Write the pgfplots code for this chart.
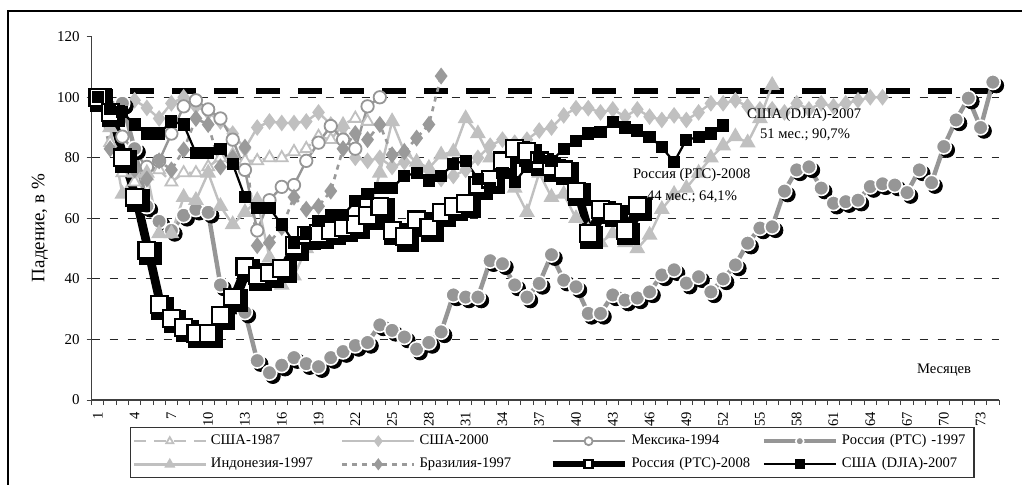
\documentclass[border=0pt]{standalone}
\usepackage{fontspec}
\setmainfont{Liberation Serif}
\usepackage{pgfplots}
\pgfplotsset{compat=1.18}
\usepackage{pgfplotstable}

\definecolor{lgray}{HTML}{C0C0C0}
\definecolor{mgray}{HTML}{969696}
\definecolor{bgray}{HTML}{9A9A9A}

% reference line at the top
\pgfplotstableread{
m v
1 102
74 102
}\refline

\pgfplotstableread{
m v
1 100
2 85
3 75
4 72
5 74
6 76
7 72
8 75
9 75
10 77
11 80
12 81
13 79
14 79
15 80
16 80
17 82
18 83
19 87
20 86
21 91
22 93
23 92
}\usaA

\pgfplotstableread{
m v
1 100
2 98
3 97
4 99
5 96.5
6 93
7 98
8 100
9 97
10 95
11 92
12 88
13 83
14 90
15 92
16 91.5
17 91.5
18 92
19 95
20 91
21 90
22 80
23 79
24 80
25 77
26 78.6
27 78
28 76
29 73
30 74
31 76
32 80
33 84
34 86
35 85
36 86
37 89
38 90
39 94
40 96.4
41 96.4
42 95
43 96
44 93.6
45 96
46 93.6
47 92.5
48 94
49 92.5
50 95
51 98
52 98
53 99
54 97
55 96
56 96
57 95
58 98
59 96
60 98
61 97
62 98
63 99
64 100
65 100
}\usaB

\pgfplotstableread{
m v
1 100
2 96
3 87
4 82
5 77
6 79
7 88
8 97
9 99
10 96
11 93
12 86
13 76
14 56
15 66
16 70.4
17 71
18 79
19 85
20 90.5
21 86
22 83
23 97
24 100
}\mex

\pgfplotstableread{
m v
1 100
2 97
3 98
4 83
5 64
6 59
7 56
8 61
9 63
10 62
11 38
12 32
13 29
14 13
15 9
16 11.5
17 14
18 12
19 11
20 14
21 16
22 18
23 19
24 24.8
25 23
26 20.8
27 16.8
28 19
29 22.5
30 34.7
31 34
32 34
33 46
34 45
35 38
36 34
37 38.5
38 48
39 39.6
40 37.4
41 28.6
42 28.6
43 34.7
44 33
45 33.7
46 35.7
47 41.3
48 43
49 38.6
50 40.7
51 35.7
52 40
53 44.6
54 51.8
55 56.8
56 57.2
57 69
58 76
59 77
60 70
61 65
62 65.5
63 66
64 70.5
65 71.4
66 71
67 68.5
68 76
69 71.8
70 83.7
71 92.5
72 99.7
73 90
74 105
}\rusA

\pgfplotstableread{
m v
1 100
2 90
3 68
4 75
5 75
6 55
7 55
8 67
9 66
10 75
11 64
12 58
13 62
14 66
15 47
16 38
17 41
18 50
19 52
20 54
21 54
22 55
23 60
24 75
25 92
26 82
27 78.6
28 76.6
29 81
30 82
31 93
32 88
33 80
34 79
35 70
36 62
37 75
38 67
39 68
40 60
41 56
42 52
43 55
44 52
45 50
46 54.5
47 63
48 68
49 70
50 75
51 80
52 84
53 87
54 85
55 93
56 104
}\ind

\pgfplotstableread{
m v
1 100
2 83
3 80
4 76
5 73
6 79
7 76
8 82.6
9 93
10 91
11 77
12 80
13 83.5
14 51
15 52
16 57
17 67
18 63
19 64
20 69
21 83
22 88
23 86
24 91
25 81
26 82
27 86.5
28 91
29 107
}\bra

\pgfplotstableread{
m v
1 100
2 95
3 80
4 67
5 49.5
6 31.5
7 27
8 24
9 22
10 22
11 28
12 34
13 44
14 41
15 42
16 43.5
17 51
18 54.5
19 55
20 56
21 57
22 58
23 61
24 64
25 56
26 54
27 59.5
28 57
29 62
30 64
31 65
32 71
33 73
34 79
35 83
36 82
37 79
38 77
39 76
40 69
41 55
42 63
43 62
44 56
45 64.1
}\rusB

\pgfplotstableread{
m v
1 100
2 96
3 95
4 91
5 88
6 88
7 92
8 91
9 81.5
10 81.6
11 83
12 78
13 67
14 63.5
15 63.4
16 58
17 52
18 55
19 59
20 61
21 61
22 65.7
23 68
24 70
25 70
26 74
27 75
28 72.5
29 74
30 78
31 79
32 73
33 70
34 75
35 72
36 77
37 80
38 79
39 83
40 85.6
41 88
42 88.5
43 91.7
44 90
45 89
46 87
47 83.5
48 78.6
49 86
50 86.8
51 88
52 90.7
}\djia

\begin{document}
\begin{tikzpicture}
\useasboundingbox (0,0) rectangle (511pt,-242pt);
\fill[white] (0,0) rectangle (511pt,-242pt);
\draw[line width=1pt] (4.2pt,-260pt) -- (4.2pt,-5.6pt) -- (530pt,-5.6pt);
\begin{axis}[
  at={(45.85pt,-200pt)}, anchor=south west,
  scale only axis, width=453.65pt, height=181.65pt,
  xmin=0.5, xmax=74.5, ymin=0, ymax=120,
  clip=false,
  axis x line*=bottom, axis y line*=left,
  axis line style={black!75, line width=0.6pt},
  tick align=outside,
  xtick={1,4,...,73},
  minor xtick={0.5,1.5,...,74.5},
  major x tick style={draw=none},
  minor x tick style={black!75, line width=0.5pt},
  minor tick length=2.5pt,
  major tick length=2.5pt,
  ytick={0,20,...,120},
  y tick style={black!75, line width=0.5pt},
  extra y ticks={20,40,60,80,100},
  extra y tick labels={},
  extra y tick style={grid=major, major tick length=0pt,
    major grid style={black!85, line width=0.5pt, dash pattern=on 4.3pt off 4.7pt}},
  /pgf/number format/assume math mode=true,
  xticklabel style={rotate=90, anchor=east, font=\fontsize{7.3}{8.5}\selectfont},
  yticklabel style={font=\fontsize{7.5}{9}\selectfont},
  legend columns=4,
  legend cell align=left,
  legend image code/.code={\draw[mark repeat=2,mark phase=2,#1] plot coordinates {(0pt,0pt) (18pt,0pt) (36pt,0pt)};},
  legend image post style={mark size=2pt},
  legend style={at={(0.0422,-0.0743)}, anchor=north west, draw=black!80,
    line width=0.6pt, font=\fontsize{7.3}{8.5}\selectfont,
    inner xsep=1pt, inner ysep=1.5pt, row sep=1pt, /tikz/column sep=0pt,
    /tikz/every even column/.append style={text width=63pt}},
]
\addplot[forget plot, black, line width=3pt, dash pattern=on 11.75pt off 9.25pt, dash phase=4.9pt] table {\refline};

\addplot[lgray, line width=1.2pt, dash pattern=on 6pt off 4pt, mark=triangle*, mark size=3.4pt,
  mark options={solid, fill=white, draw=lgray, line width=0.9pt}] table {\usaA};
\addlegendentry{США-1987}

\addplot[lgray, line width=1.2pt, mark=diamond*, mark size=3.2pt,
  mark options={fill=lgray, draw=lgray}] table {\usaB};
\addlegendentry{США-2000}

\addplot[mgray, line width=1.2pt, mark=*, mark size=3.1pt,
  mark options={fill=white, draw=mgray, line width=0.9pt}] table {\mex};
\addlegendentry{Мексика-1994}

\addplot[forget plot, black, only marks, mark=*, mark size=3.7pt, mark options={fill=black, draw=black},
  xshift=1.7pt, yshift=-1.7pt] table {\rusA};
\addplot[mgray, line width=2.2pt, mark=*, mark size=3.7pt,
  mark options={fill=mgray, draw=white, line width=0.8pt}] table {\rusA};
\addlegendentry{Россия (РТС) -1997}

\addplot[lgray, line width=1.2pt, mark=triangle*, mark size=3.4pt,
  mark options={fill=lgray, draw=lgray}] table {\ind};
\addlegendentry{Индонезия-1997}

\addplot[bgray, line width=1.3pt, dash pattern=on 2.5pt off 2.5pt, mark=diamond*, mark size=3.2pt,
  mark options={solid, fill=bgray, draw=bgray}] table {\bra};
\addlegendentry{Бразилия-1997}

\addplot[forget plot, black, line width=3pt, mark=square*, mark size=4.2pt,
  mark options={fill=black, draw=black}, xshift=1.8pt, yshift=-1.8pt] table {\rusB};
\addplot[black, line width=3pt, mark=square*, mark size=4.2pt,
  mark options={fill=white, draw=black, line width=1.1pt}] table {\rusB};
\addlegendentry{Россия (РТС)-2008}

\addplot[black, line width=1.1pt, mark=square*, mark size=2.5pt,
  mark options={fill=black, draw=black}] table {\djia};
\addlegendentry{США (DJIA)-2007}
\end{axis}
\begin{scope}[font=\fontsize{7.3}{8.5}\selectfont]
\node[anchor=west] at (370pt,-57.5pt) {США (DJIA)-2007};
\node[anchor=west] at (376.5pt,-67.5pt) {51 мес.; 90,7\%};
\node[anchor=west] at (313pt,-87.5pt) {Россия (РТС)-2008};
\node[anchor=west] at (320pt,-98.5pt) {44 мес.; 64,1\%};
\node[anchor=west] at (455pt,-185pt) {Месяцев};
\node[rotate=90, font=\fontsize{9.5}{11}\selectfont] at (20pt,-114pt) {Падение, в \%};
\end{scope}
\end{tikzpicture}
\end{document}
